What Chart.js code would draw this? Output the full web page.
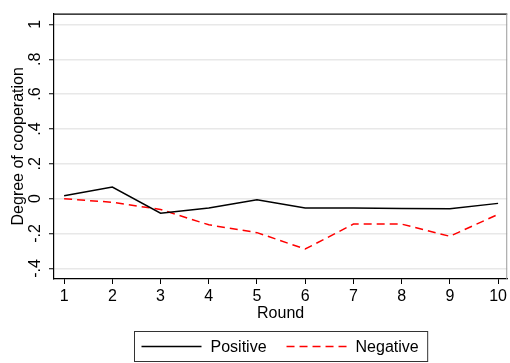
<!DOCTYPE html>
<html><head><meta charset="utf-8">
<script src="https://cdn.jsdelivr.net/npm/chart.js@4.4.1/dist/chart.umd.min.js"></script>
<style>html,body{margin:0;padding:0;background:#fff}#wrap{width:510px;height:363px}</style>
</head><body><div id="wrap"><canvas id="c" width="510" height="363"></canvas></div>
<script>
const rounds = [1, 2, 3, 4, 5, 6, 7, 8, 9, 10];
const positive = [0.017, 0.067, -0.083, -0.053, -0.006, -0.053, -0.053, -0.056, -0.058, -0.027];
const negative = [0.000, -0.021, -0.062, -0.150, -0.195, -0.289, -0.146, -0.146, -0.216, -0.090];
const yTicks = [-0.4, -0.2, 0, 0.2, 0.4, 0.6, 0.8, 1];
const yTickLabels = ['-.4', '-.2', '0', '.2', '.4', '.6', '.8', '1'];
const xTicks = [1, 2, 3, 4, 5, 6, 7, 8, 9, 10];
const seriesNames = ['Positive', 'Negative'];
const yTitle = 'Degree of cooperation';
const xTitle = 'Round';

const FONT = '"Liberation Sans", Arial, Helvetica, sans-serif';
Chart.defaults.font.family = FONT;
Chart.defaults.font.size = 16;
Chart.defaults.color = '#000';

const frame = {
  id: 'frame',
  afterDraw(chart) {
    const {ctx, chartArea: a} = chart;
    ctx.save();
    ctx.lineWidth = 1.2;
    ctx.strokeStyle = '#000';
    ctx.beginPath(); ctx.moveTo(a.left, a.top + 0.5); ctx.lineTo(a.right, a.top + 0.5); ctx.stroke();
    ctx.strokeStyle = '#999';
    ctx.lineWidth = 1;
    ctx.beginPath(); ctx.moveTo(a.right - 0.5, a.top); ctx.lineTo(a.right - 0.5, a.bottom); ctx.stroke();
    ctx.restore();
  }
};

const boxLegend = {
  id: 'boxLegend',
  afterDraw(chart) {
    const {ctx, chartArea: a} = chart;
    const ds = chart.data.datasets;
    ctx.save();
    ctx.font = '16px ' + FONT;
    const lineLen = 60, gapText = 9, gapItem = 20, padL = 7, padR = 9;
    const widths = ds.map(d => ctx.measureText(d.label).width);
    let total = padL + padR;
    ds.forEach((d, i) => { total += lineLen + gapText + widths[i]; if (i < ds.length - 1) total += gapItem; });
    const cx = (a.left + a.right) / 2;
    const left = Math.round(cx - total / 2) + 0.5;
    const top = 331.5, h = 30;
    ctx.strokeStyle = '#333';
    ctx.lineWidth = 1;
    ctx.strokeRect(left, top, total, h);
    const cy = top + h / 2;
    let x = left + padL;
    ds.forEach((d, i) => {
      ctx.strokeStyle = d.borderColor;
      ctx.lineWidth = d.borderWidth;
      ctx.setLineDash(d.borderDash || []);
      ctx.beginPath(); ctx.moveTo(x, cy); ctx.lineTo(x + lineLen, cy); ctx.stroke();
      ctx.setLineDash([]);
      x += lineLen + gapText;
      ctx.fillStyle = '#000';
      ctx.textBaseline = 'middle';
      ctx.textAlign = 'left';
      ctx.fillText(d.label, x, cy + 1);
      x += widths[i] + gapItem;
    });
    ctx.restore();
  }
};

new Chart(document.getElementById('c'), {
  type: 'line',
  data: {
    datasets: [
      { label: seriesNames[0], data: rounds.map((r, i) => ({x: r, y: positive[i]})),
        borderColor: '#000', borderWidth: 1.5, pointRadius: 0, fill: false, tension: 0 },
      { label: seriesNames[1], data: rounds.map((r, i) => ({x: r, y: negative[i]})),
        borderColor: '#ff0000', borderWidth: 1.5, borderDash: [8, 5], pointRadius: 0, fill: false, tension: 0 }
    ]
  },
  options: {
    responsive: false,
    animation: false,
    devicePixelRatio: 1,
    layout: { padding: { left: 0, top: 8, right: 1, bottom: 40 } },
    plugins: { legend: { display: false }, tooltip: { enabled: false } },
    scales: {
      x: {
        type: 'linear', min: 0.79, max: 10.19,
        afterBuildTicks: s => { s.ticks = xTicks.map(v => ({value: v})); },
        afterFit: s => { s.height = 44; },
        ticks: { padding: 3, maxRotation: 0, autoSkip: false, font: { size: 16 }, color: '#000',
                 callback: v => String(v) },
        grid: { drawOnChartArea: false, drawTicks: true, tickLength: 5, tickColor: '#000', tickWidth: 1 },
        border: { display: true, color: '#000', width: 1.2 },
        title: { display: true, text: xTitle, font: { size: 16 }, color: '#000', padding: { top: 0, bottom: 0 } }
      },
      y: {
        type: 'linear', min: -0.461, max: 1.062,
        afterBuildTicks: s => { s.ticks = yTicks.map(v => ({value: v})); },
        afterFit: s => { s.width = 54; },
        ticks: { padding: 4, minRotation: 90, maxRotation: 90, crossAlign: 'center', autoSkip: false,
                 font: { size: 16 }, color: '#000',
                 callback: v => { const k = yTicks.findIndex(t => Math.abs(t - v) < 1e-9); return k >= 0 ? yTickLabels[k] : ''; } },
        grid: { drawOnChartArea: true, color: '#e8e8e8', lineWidth: 1.5, drawTicks: true, tickLength: 5, tickColor: '#000', tickWidth: 1 },
        border: { display: true, color: '#000', width: 1.2 },
        title: { display: true, text: yTitle, font: { size: 16 }, color: '#000', padding: { top: 9, bottom: 0 } }
      }
    }
  },
  plugins: [frame, boxLegend]
});
</script>
</body></html>
